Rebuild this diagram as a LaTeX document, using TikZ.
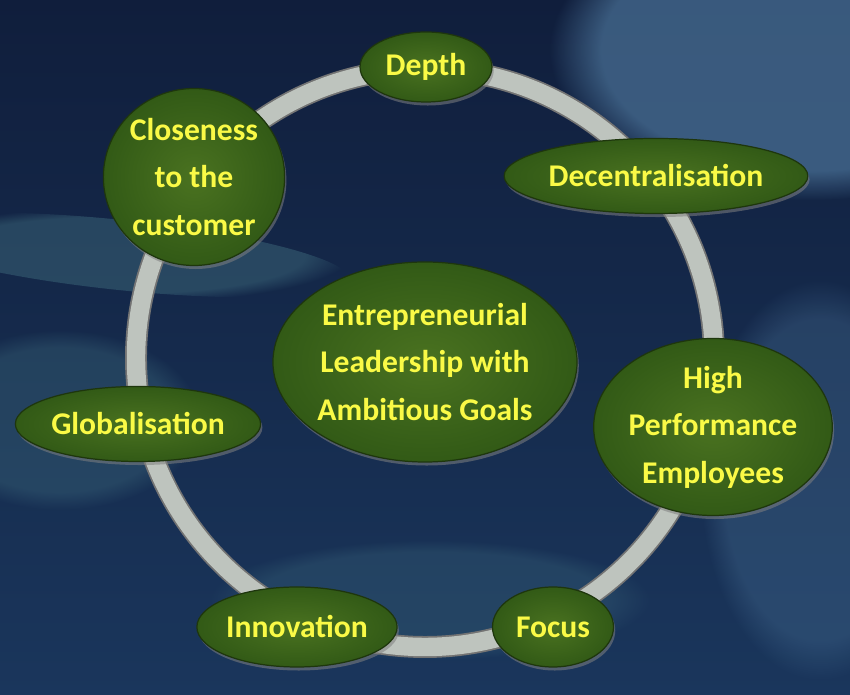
\documentclass[tikz,border=0pt]{standalone}
\usepackage{fontspec}
\setmainfont{Carlito}
\usetikzlibrary{shapes.geometric, shadows, fadings}
\definecolor{bgdark}{RGB}{16,30,60}
\definecolor{bgmid}{RGB}{26,54,92}
\definecolor{bglight}{RGB}{80,122,160}
\definecolor{bgteal}{RGB}{70,120,135}
\definecolor{leafgreen}{RGB}{74,114,32}
\definecolor{leafdark}{RGB}{50,90,22}
\definecolor{ringgray}{RGB}{190,196,190}
\definecolor{txtyellow}{RGB}{250,250,70}
\tikzset{
	bubble/.style={ellipse, inner sep=0pt, draw=leafdark!60!black, line width=0.7pt,
		inner color=leafgreen, outer color=leafdark, text=txtyellow,
		font=\fontsize{18}{27}\selectfont\bfseries, align=center,
		drop shadow={shadow xshift=1pt, shadow yshift=-2pt, opacity=0.55}}
}
\tikzset{
	streak/.style={path fading=circle with fuzzy edge 20 percent}
}

\begin{document}
\begin{tikzpicture}[x=0.02cm, y=-0.02cm]
      \useasboundingbox (0,0) rectangle (850,695);
      \clip (0,0) rectangle (850,695);
      % background
      \shade[top color=bgdark, bottom color=bgmid] (0,0) rectangle (850,695);
      \fill[bglight, opacity=0.65, streak] (810,50) ellipse (260 and 150);
      \fill[bgteal, opacity=0.4, streak, rotate around={-6:(120,255)}] (120,255) ellipse (230 and 35);
      \fill[bgteal, opacity=0.3, streak] (60,420) ellipse (140 and 90);
      \fill[bglight, opacity=0.3, streak] (820,480) ellipse (120 and 200);
      \fill[bgteal, opacity=0.25, streak] (430,600) ellipse (220 and 60);
      % ring
      \draw[line width=12.5pt, black!55] (425,358) circle (289);
      \draw[line width=10.5pt, ringgray] (425,358) circle (289);
      % bubbles
      \foreach \x/\y/\w/\h/\n/\t in {
          194/177/178/177/clo/{Closeness\\to the\\customer},
          426/67/132/70/dep/{Depth},
          656/176/267/75/dec/{Decentralisation},
          425/362/285/200/lead/{Entrepreneurial\\Leadership with\\Ambitious Goals},
          713/427/220/177/hpe/{High\\Performance\\Employees},
          138/424/226/75/glo/{Globalisation},
          297/627/193/80/inn/{Innovation},
          553/627/121/80/foc/{Focus}}
        \node[bubble, minimum width=\w*0.02cm, minimum height=\h*0.02cm] (\n) at (\x,\y) {\t};
    \end{tikzpicture}
\end{document}
